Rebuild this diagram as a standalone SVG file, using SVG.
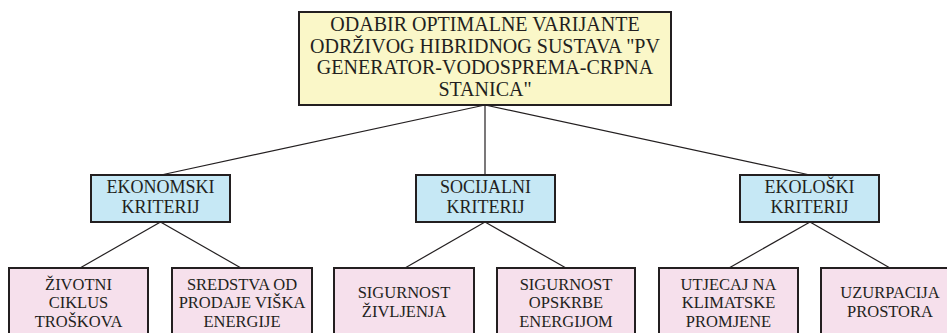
<svg xmlns="http://www.w3.org/2000/svg" width="947" height="333" viewBox="0 0 947 333">
<style>
text{font-family:'Liberation Serif','Times New Roman',Times,serif;fill:#231f20;text-anchor:middle}
.top rect{fill:#faf7c8;stroke:#231f20;stroke-width:2}
.mid rect{fill:#c6e8f5;stroke:#231f20;stroke-width:2}
.leaf rect{fill:#f6e0ec;stroke:#231f20;stroke-width:2}
.top text{font-size:20px}
.mid text{font-size:18px}
.leaf text{font-size:16.5px}
#connectors line{stroke:#231f20;stroke-width:1.2}
</style>
<rect width="947" height="333" fill="#ffffff"/>
<g id="connectors">
<line x1="485" y1="105" x2="161" y2="175"/>
<line x1="485" y1="105" x2="485" y2="175"/>
<line x1="485" y1="105" x2="810" y2="175"/>
<line x1="160.5" y1="222" x2="80" y2="268"/>
<line x1="160.5" y1="222" x2="241" y2="268"/>
<line x1="485" y1="222" x2="405" y2="268"/>
<line x1="485" y1="222" x2="566" y2="268"/>
<line x1="810" y1="222" x2="729" y2="268"/>
<line x1="810" y1="222" x2="890" y2="268"/>
</g>
<g id="root" class="top">
<rect x="299" y="12" width="372" height="93"/>
<text x="485" y="31" style="font-family:'Liberation Serif'">ODABIR OPTIMALNE VARIJANTE</text>
<text x="485" y="52.5" style="font-family:'Liberation Serif'">ODRŽIVOG HIBRIDNOG SUSTAVA "PV</text>
<text x="485" y="74" style="font-family:'Liberation Serif'">GENERATOR-VODOSPREMA-CRPNA</text>
<text x="485" y="96" style="font-family:'Liberation Serif'">STANICA"</text>
</g>
<g id="ekonomski" class="mid">
<rect x="91" y="175" width="139" height="47"/>
<text x="160.5" y="193.3">EKONOMSKI</text>
<text x="160.5" y="213.3">KRITERIJ</text>
</g>
<g id="socijalni" class="mid">
<rect x="416" y="175" width="139" height="47"/>
<text x="485.5" y="193.3">SOCIJALNI</text>
<text x="485.5" y="213.3">KRITERIJ</text>
</g>
<g id="ekoloski" class="mid">
<rect x="740" y="175" width="139" height="47"/>
<text x="809.5" y="193.3">EKOLOŠKI</text>
<text x="809.5" y="213.3">KRITERIJ</text>
</g>
<g id="zivotni" class="leaf">
<rect x="9" y="268" width="139" height="75"/>
<text x="78.5" y="289.5">ŽIVOTNI</text>
<text x="78.5" y="308">CIKLUS</text>
<text x="78.5" y="326.5">TROŠKOVA</text>
</g>
<g id="sredstva" class="leaf">
<rect x="172" y="268" width="140" height="75"/>
<text x="242" y="289.5">SREDSTVA OD</text>
<text x="242" y="308">PRODAJE VIŠKA</text>
<text x="242" y="326.5">ENERGIJE</text>
</g>
<g id="sigurnost-zivljenja" class="leaf">
<rect x="334" y="268" width="140" height="75"/>
<text x="404" y="297.5">SIGURNOST</text>
<text x="404" y="316.5">ŽIVLJENJA</text>
</g>
<g id="sigurnost-opskrbe" class="leaf">
<rect x="497" y="268" width="138" height="75"/>
<text x="566" y="289.5">SIGURNOST</text>
<text x="566" y="308">OPSKRBE</text>
<text x="566" y="326.5">ENERGIJOM</text>
</g>
<g id="utjecaj" class="leaf">
<rect x="659" y="268" width="139" height="75"/>
<text x="728.5" y="289.5">UTJECAJ NA</text>
<text x="728.5" y="308">KLIMATSKE</text>
<text x="728.5" y="326.5">PROMJENE</text>
</g>
<g id="uzurpacija" class="leaf">
<rect x="821" y="268" width="139" height="75"/>
<text x="890" y="298">UZURPACIJA</text>
<text x="890" y="317">PROSTORA</text>
</g>
</svg>
